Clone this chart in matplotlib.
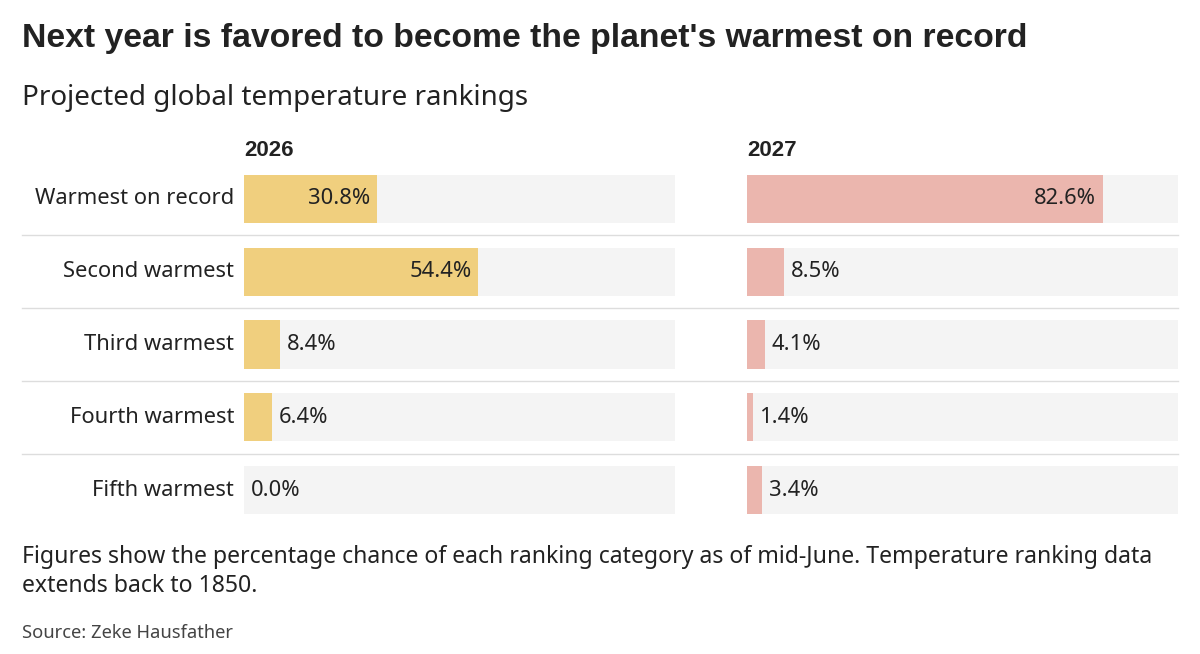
import matplotlib
matplotlib.use("Agg")
from matplotlib import pyplot as plt
from matplotlib.lines import Line2D

categories = ["Warmest on record", "Second warmest", "Third warmest",
              "Fourth warmest", "Fifth warmest"]
years = ["2026", "2027"]
values_2026 = [30.8, 54.4, 8.4, 6.4, 0.0]
values_2027 = [82.6, 8.5, 4.1, 1.4, 3.4]
colors = ["#f0cf7e", "#ebb6ae"]

W, H = 1200, 654
plt.rcParams["font.family"] = ["Noto Sans", "DejaVu Sans"]
fig = plt.figure(figsize=(W / 100, H / 100), dpi=100)
fig.patch.set_facecolor("white")
txt = "#222222"


def fx(px):
    return px / W


def fy(py):
    return 1 - py / H


top, bottom = 162.6, 526.4
pitch = (bottom - top) / 5
lefts = [244, 747]
for left, year, vals, col in zip(lefts, years, [values_2026, values_2027], colors):
    ax = fig.add_axes([fx(left), fy(bottom), fx(431), (bottom - top) / H])
    ax.set_xlim(0, 100)
    ax.set_ylim(4.5, -0.5)
    ax.axis("off")
    ys = range(len(categories))
    ax.barh(ys, [100] * len(categories), height=0.66, color="#f4f4f4")
    ax.barh(ys, vals, height=0.66, color=col)
    for y, v in zip(ys, vals):
        if v > 20:
            ax.text(v - 1.6, y, f"{v:.1f}%", ha="right", va="center",
                    fontsize=15.8, color=txt)
        else:
            ax.text(v + 1.6, y, f"{v:.1f}%", ha="left", va="center",
                    fontsize=15.8, color=txt)
    fig.text(fx(left), fy(150), year, fontsize=16, fontweight="bold",
             color=txt, va="center", family="Liberation Sans")

for i, cat in enumerate(categories):
    fig.text(fx(234), fy(top + pitch * (i + 0.5)), cat, ha="right",
             va="center", fontsize=15.8, color=txt)
for i in range(1, 5):
    y = fy(top + pitch * i)
    fig.add_artist(Line2D([fx(22), fx(1178)], [y, y], color="#dddddd", lw=1))

fig.text(fx(22), fy(38), "Next year is favored to become the planet's warmest on record",
         fontsize=24.3, fontweight="bold", color=txt, va="center",
         family="Liberation Sans")
fig.text(fx(22), fy(98), "Projected global temperature rankings",
         fontsize=20, color=txt, va="center")
fig.text(fx(22), fy(557), "Figures show the percentage chance of each ranking category "
         "as of mid-June. Temperature ranking data", fontsize=16.6, color=txt, va="center")
fig.text(fx(22), fy(586), "extends back to 1850.", fontsize=16.6, color=txt, va="center")
fig.text(fx(22), fy(633), "Source: Zeke Hausfather", fontsize=13.2, color="#444444",
         va="center")

fig.savefig("out.png", dpi=100)
